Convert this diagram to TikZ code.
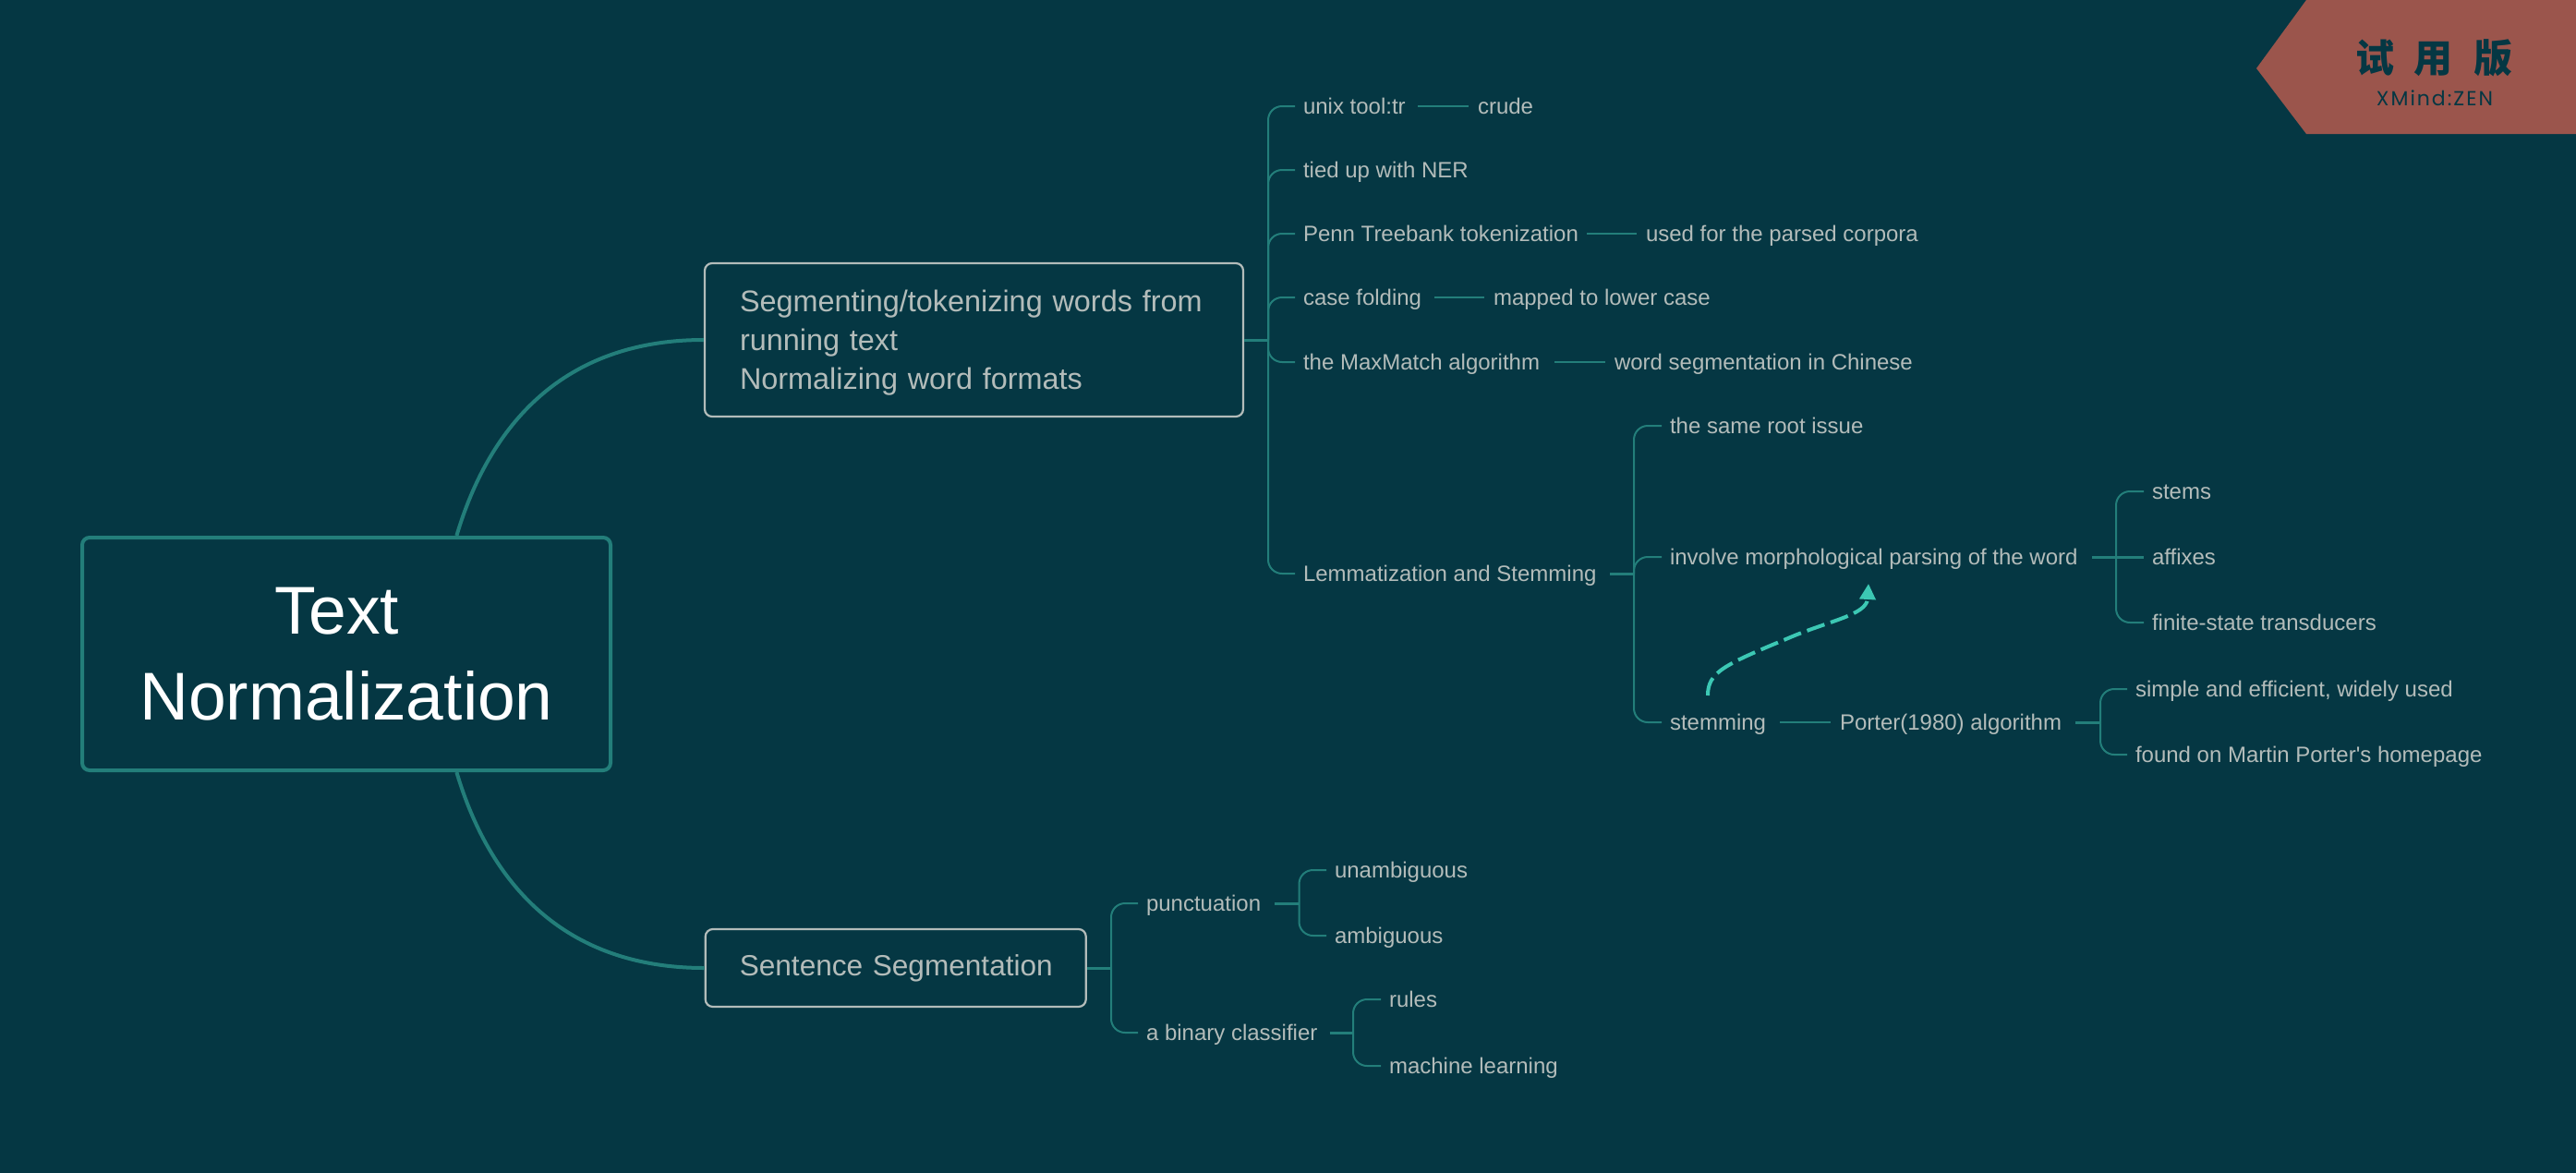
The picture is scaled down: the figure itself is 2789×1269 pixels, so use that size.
\documentclass[tikz,border=0pt]{standalone}
\usepackage{fontspec}
\setmainfont{Liberation Sans}[Ligatures=TeXOff]
\newfontfamily\cjkfont{Noto Sans CJK SC}
\newfontfamily\wmfont[LetterSpace=9]{Poppins}
\usetikzlibrary{arrows.meta,calc}
\definecolor{bgc}{HTML}{053743}
\definecolor{linec}{HTML}{237E7A}
\definecolor{txtc}{HTML}{B3BCBA}
\definecolor{relc}{HTML}{3CC8B4}
\definecolor{wmc}{HTML}{9B554C}
\newcommand\wb[2]{\makebox[#1][l]{#2}}
\tikzset{
  lab/.style={anchor=west,inner sep=0pt,outer sep=0pt,text=txtc,font=\fontsize{12pt}{14pt}\selectfont,text height=13pt,text depth=5pt},
  topic/.style={draw=txtc,line width=1.1pt,rounded corners=4pt,fill=bgc,text=txtc,align=left,inner ysep=0pt,font=\fontsize{16.2pt}{21pt}\selectfont},
  rootbox/.style={draw=linec,line width=2pt,rounded corners=4pt,fill=bgc,text=white,align=center,inner sep=0pt,minimum width=286pt,minimum height=126pt,font=\fontsize{36.6pt}{46.5pt}\selectfont},
  mainline/.style={draw=linec,line width=2pt},
  stub/.style={draw=linec,line width=1.5pt},
  twig/.style={draw=linec,line width=1pt,rounded corners=7.5pt,shorten >=4.5pt},
  link/.style={draw=linec,line width=1pt,shorten <=6pt,shorten >=5pt},
  rel/.style={draw=relc,line width=2pt,dash pattern=on 10pt off 3.5pt,-{Triangle[length=8.5pt,width=8.5pt,fill=relc]}}
}
\begin{document}
\begin{tikzpicture}[x=0.5pt,y=-0.5pt]
\useasboundingbox (0,0) rectangle (2789,1269);
\fill[bgc] (-10,-10) rectangle (2800,1280);
% watermark
\fill[wmc] (2497,-10) -- (2497,0) -- (2443,74) -- (2497,145) -- (2800,145) -- (2800,-10) -- cycle;
\node[inner sep=0pt,text=bgc,font=\fontsize{21pt}{22pt}\selectfont\cjkfont\bfseries] (wm) at (2635,63) {试\hspace{11pt}用\hspace{11pt}版};
\node[inner sep=0pt,text=bgc,font=\fontsize{11pt}{13pt}\selectfont\wmfont,anchor=base] (wmb) at (2636,114) {XMind:ZEN};
% root and topics
\node[rootbox] (root) at (375,708) {\mbox{Text\ }\\Normalization};
\node[topic,text width=253.5pt,inner xsep=19pt,minimum height=83pt] (seg) at (1054.5,368) {\rule{0pt}{14.7pt}Segmenting/tokenizing words from\\running text\\Normalizing word formats};
\node[topic,text width=169pt,inner xsep=18.5pt,minimum height=42pt,font=\fontsize{15.8pt}{21pt}\selectfont] (sent) at (969.75,1048) {\mbox{Sentence Segmentation}};
\draw[mainline] (root.47.8) .. controls (530,460) and (610,368) .. (seg.west);
\draw[mainline] (root.-47.8) .. controls (530,956) and (610,1048) .. (sent.west);
% upper group
\node[lab] (unix) at (1411,115) {\wb{56pt}{unix tool:tr}};
\node[lab] (crude) at (1600,115) {crude};
\node[lab] (tied) at (1411,184) {tied up with NER};
\node[lab] (penn) at (1411,253) {\wb{147.5pt}{Penn Treebank tokenization}};
\node[lab] (parsed) at (1782,253) {used for the parsed corpora};
\node[lab] (case) at (1411,322) {\wb{65pt}{case folding}};
\node[lab] (lower) at (1617,322) {mapped to lower case};
\node[lab] (maxm) at (1411,392) {\wb{130pt}{the MaxMatch algorithm}};
\node[lab] (chinese) at (1748,392) {word segmentation in Chinese};
\node[lab] (lemma) at (1411,621) {\wb{160pt}{Lemmatization and Stemming}};
\node[lab] (root2) at (1808,461) {the same root issue};
\node[lab] (involve) at (1808,603) {\wb{223pt}{involve morphological parsing of the word}};
\node[lab] (stemming) at (1808,782) {\wb{53.5pt}{stemming}};
\node[lab] (stems) at (2330,532) {stems};
\node[lab] (affixes) at (2330,603) {affixes};
\node[lab] (finite) at (2330,674) {finite-state transducers};
\node[lab] (porter) at (1992,782) {\wb{121.5pt}{Porter(1980) algorithm}};
\node[lab] (simple) at (2312,746) {simple and efficient, widely used};
\node[lab] (found) at (2312,817) {found on Martin Porter's homepage};
\coordinate (ta) at (1373,368);
\coordinate (tb) at (1769,621);
\coordinate (tc) at (2291,603);
\coordinate (td) at (2274,782);
\draw[stub] (seg.east) -- (ta);
\foreach \n in {unix,tied,penn,case,maxm,lemma} \draw[twig] (ta) |- (\n.west);
\draw[link] (unix.east) -- (crude.west);
\draw[link] (penn.east) -- (parsed.west);
\draw[link] (case.east) -- (lower.west);
\draw[link] (maxm.east) -- (chinese.west);
\draw[stub,shorten <=6pt] (lemma.east) -- (tb);
\foreach \n in {root2,involve,stemming} \draw[twig] (tb) |- (\n.west);
\draw[stub,shorten <=5.5pt] (involve.east) -- (tc);
\foreach \n in {stems,finite} \draw[twig] (tc) |- (\n.west);
\draw[stub,shorten >=4.5pt] (tc) -- (affixes.west);
\draw[link] (stemming.east) -- (porter.west);
\draw[stub,shorten <=6pt] (porter.east) -- (td);
\foreach \n in {simple,found} \draw[twig] (td) |- (\n.west);
% lower group
\node[lab] (punct) at (1241,978) {\wb{63.5pt}{punctuation}};
\node[lab] (binary) at (1241,1118) {\wb{93.25pt}{a binary classifier}};
\node[lab] (unamb) at (1445,942) {unambiguous};
\node[lab] (amb) at (1445,1013) {ambiguous};
\node[lab] (rules) at (1504,1082) {rules};
\node[lab] (ml) at (1504,1154) {machine learning};
\coordinate (te) at (1203,1048);
\coordinate (tf) at (1406.5,978);
\coordinate (tg) at (1465,1118);
\draw[stub] (sent.east) -- (te);
\foreach \n in {punct,binary} \draw[twig] (te) |- (\n.west);
\draw[stub,shorten <=6pt] (punct.east) -- (tf);
\foreach \n in {unamb,amb} \draw[twig] (tf) |- (\n.west);
\draw[stub,shorten <=6pt] (binary.east) -- (tg);
\foreach \n in {rules,ml} \draw[twig] (tg) |- (\n.west);
% relationship
\coordinate (rs) at ($(stemming.north west)+(41,-11)$);
\coordinate (re) at ($(involve.south west)+(215,11)$);
\draw[rel] (rs) .. controls (1849,728) and (1866,720) .. (1936,691) .. controls (1980,672) and (2021,666) .. (re);
\end{tikzpicture}
\end{document}
